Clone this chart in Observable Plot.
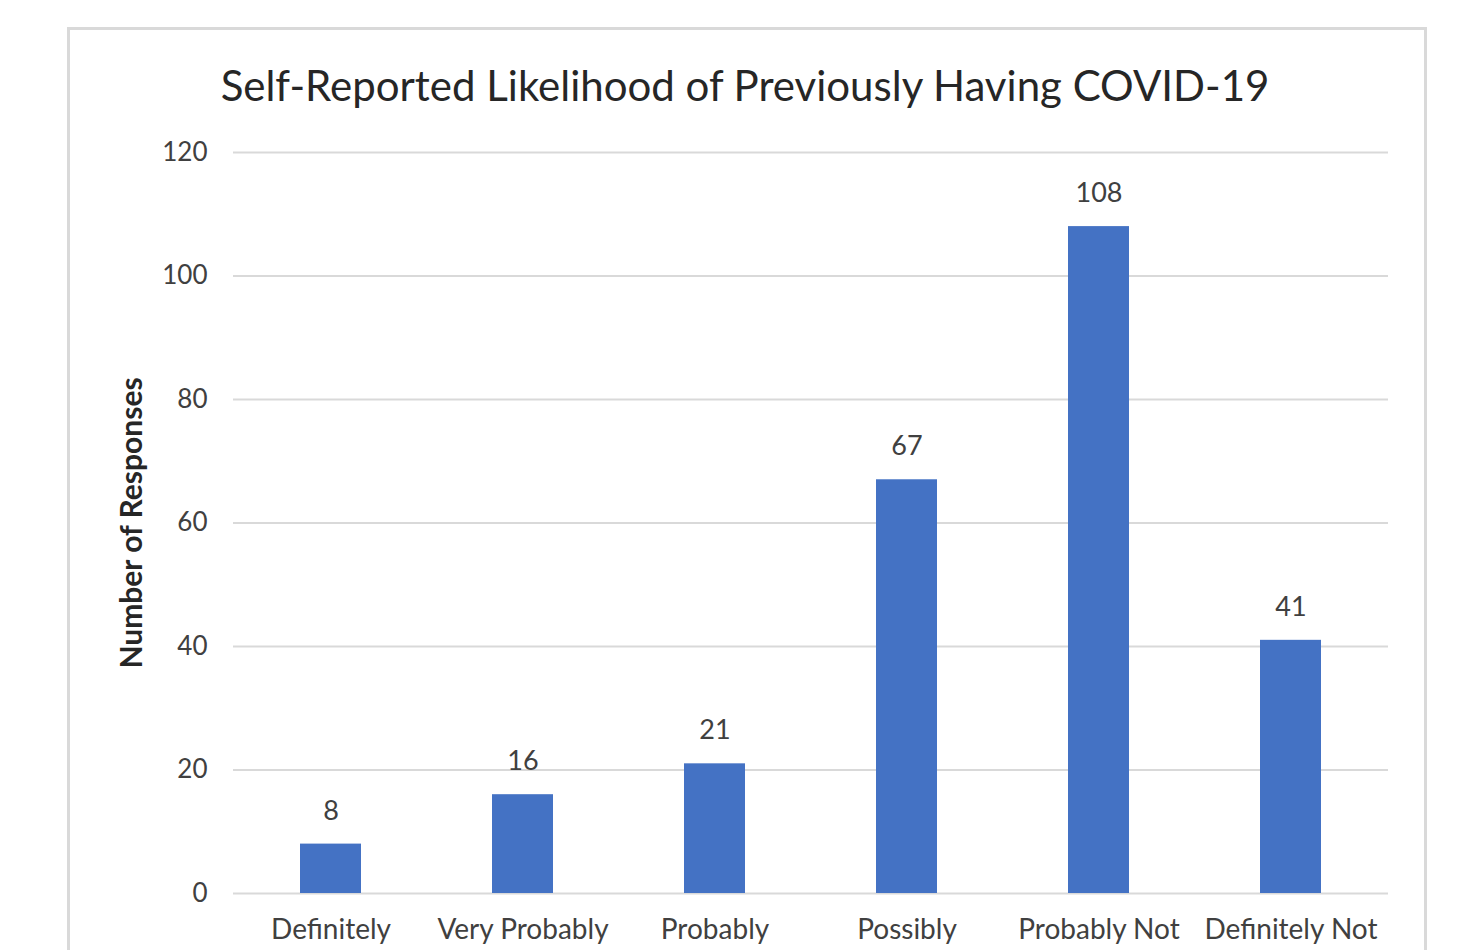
<!DOCTYPE html>
<html>
<head>
<meta charset="utf-8">
<script src="https://cdn.jsdelivr.net/npm/d3@7"></script>
<script src="https://cdn.jsdelivr.net/npm/@observablehq/plot@0.6"></script>
<style>
  html, body { margin: 0; padding: 0; background: #fff; overflow: hidden; }
  #frame { position: absolute; left: 67px; top: 27px; width: 1354px; height: 1000px; border: 3px solid #d9d9d9; }
  #title { position: absolute; left: 0; top: 0; width: 1474px; height: 120px;
           font-family: Lato, sans-serif; font-size: 42px; color: #262626; line-height: 1; }
  #title span { position: absolute; left: 745px; top: 64px; transform: translateX(-50%); white-space: nowrap; }
  #chart { position: absolute; left: 0; top: 120px; }
</style>
</head>
<body>
<div id="frame"></div>
<div id="title"><span>Self-Reported Likelihood of Previously Having COVID-19</span></div>
<div id="chart"></div>
<script>
const categories = ["Definitely", "Very Probably", "Probably", "Possibly", "Probably Not", "Definitely Not"];
const responses = [8, 16, 21, 67, 108, 41];
const yTicks = [0, 20, 40, 60, 80, 100, 120];
const yLabel = "Number of Responses";

const data = categories.map((c, i) => ({category: c, value: responses[i]}));

const font = "Lato, sans-serif";
const chart = Plot.plot({
  width: 1474,
  height: 830,
  marginLeft: 233,
  marginRight: 86,
  marginTop: 32,
  marginBottom: 57,
  style: {fontFamily: font, fontSize: "26px", color: "#404040", background: "transparent"},
  x: {domain: categories, paddingInner: 0.683, paddingOuter: 0.3415, label: null, tickSize: 0, tickPadding: 26},
  y: {domain: [0, 120], ticks: yTicks, label: null, tickSize: 0, tickPadding: 26},
  marks: [
    Plot.gridY(yTicks, {stroke: "#d9d9d9", strokeOpacity: 1, strokeWidth: 2}),
    Plot.barY(data, {x: "category", y: "value", fill: "#4472c4"}),
    Plot.text(data, {x: "category", y: "value", text: d => String(d.value), dy: -33,
                     fontSize: 27, fill: "#404040"}),
    Plot.text([yLabel], {frameAnchor: "left", dx: -101, rotate: -90, textAnchor: "middle", text: d => d,
                         fontSize: 30, fontWeight: "bold", fill: "#262626"})
  ]
});
// enlarge the x tick labels slightly
chart.querySelectorAll("g[aria-label='x-axis tick label']").forEach(g => g.setAttribute("font-size", "28"));
document.getElementById("chart").appendChild(chart);
</script>
</body>
</html>
